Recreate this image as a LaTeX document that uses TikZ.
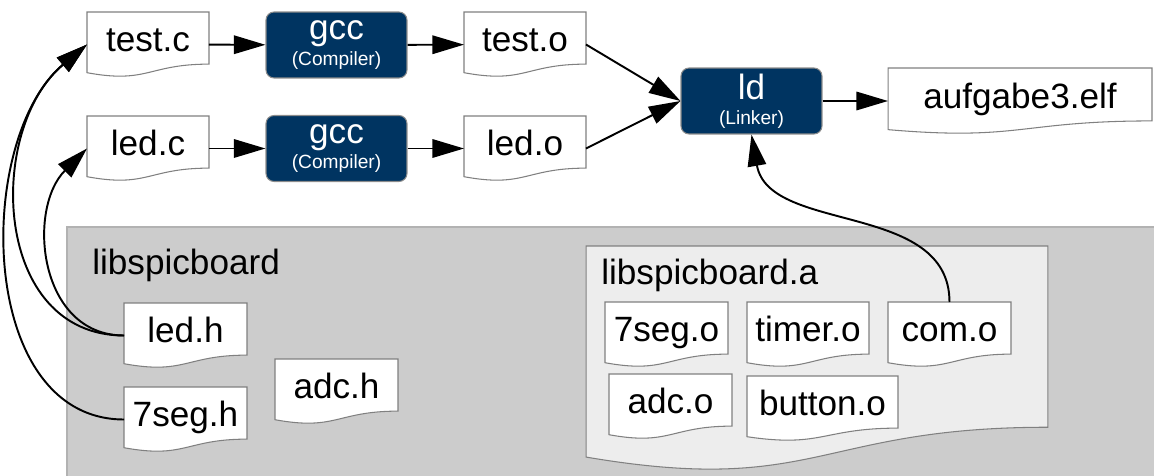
\documentclass[tikz,border=0pt]{standalone}
\usepackage{fontspec}
\setmainfont{Liberation Sans}
\usepackage{tikz}
\usetikzlibrary{calc,arrows.meta,backgrounds}

\definecolor{toolblue}{RGB}{0,52,97}
\newcommand{\bigfont}{\fontsize{20}{24}\selectfont}
\newcommand{\smallfont}{\fontsize{10.9}{13}\selectfont}

\tikzset{
    file/.style={minimum width=2.44cm, minimum height=1.3cm, inner sep=0pt, outer sep=0pt,
        text height=14pt, text depth=5.5pt, font=\bigfont},
    tool/.style={fill=toolblue, draw=black!45, line width=0.6pt, rounded corners=0.16cm,
        text=white, minimum width=2.82cm, minimum height=1.32cm, inner sep=0pt,
        align=center, font=\bigfont},
    page/.style={draw=black!50, line width=0.6pt},
    link/.style={-{Triangle[length=18pt,width=10.5pt]}, line width=1.1pt},
    title/.style={anchor=base west, inner sep=0pt, font=\bigfont},
}

% page with a wavy lower edge, drawn round a node
\newcommand{\docpage}[2][white]{%
    \path[page, fill=#1] let \p1=(#2.north west), \p2=(#2.south east) in
        (\p1) -- (\x2,\y1) -- (\x2,{\y1+0.802*(\y2-\y1)})
        .. controls ({(\x1+\x2)/2},{\y1+0.802*(\y2-\y1)}) and ({(\x1+\x2)/2},{\y1+1.1075*(\y2-\y1)})
        .. (\x1,{\y1+0.934*(\y2-\y1)}) -- cycle;}

\begin{document}
\begin{tikzpicture}[x=0.02cm, y=0.02cm]
        \useasboundingbox (0,0) rectangle (1154,-476);
        %
        \node[file] (testc) at (148,-44.5) {test.c};
        \node[file] (ledc)  at (148,-148.5) {led.c};
        \node[tool] (gcc1)  at (336.5,-45) {gcc\\[-9.5pt]\smallfont (Compiler)};
        \node[tool] (gcc2)  at (336.5,-148.5) {gcc\\[-9.5pt]\smallfont (Compiler)};
        \node[file] (testo) at (525,-44.5) {test.o};
        \node[file] (ledo)  at (525,-148.5) {led.o};
        \node[tool] (ld)    at (751.5,-101) {ld\\[-9.5pt]\smallfont (Linker)};
        \node[file, minimum width=5.28cm, minimum height=1.32cm] (elf) at (1020,-101) {aufgabe3.elf};
        %
        \node[title] (libname) at (92,-275) {libspicboard};
        \node[file, minimum width=2.46cm] (ledh) at (185.5,-335.5) {led.h};
        \node[file, minimum width=2.46cm] (segh) at (185.5,-419.5) {7seg.h};
        \node[file, minimum width=2.46cm] (adch) at (336.5,-391.5) {adc.h};
        %
        \node[file, minimum width=9.24cm, minimum height=4.52cm] (liba) at (817,-359) {};
        \node[title] (arname) at (601,-285) {libspicboard.a};
        \node[file, minimum width=2.46cm] (sego)    at (666.5,-334.5) {7seg.o};
        \node[file] (timero)  at (808,-334.5) {timer.o};
        \node[file, minimum width=2.46cm] (como)    at (949.5,-334.5) {com.o};
        \node[file, minimum width=2.46cm] (adco)    at (670.5,-406.5) {adc.o};
        \node[file, minimum width=3.02cm] (buttono) at (822.5,-408.5) {button.o};
        %
        \draw[link] (testc) -- (gcc1);
        \draw[link] (gcc1) -- (testo);
        \draw[link] (ledc) -- (gcc2);
        \draw[link] (gcc2) -- (ledo);
        \draw[link] (testo.east) -- (ld.west);
        \draw[link] (ledo.east) -- (ld.west);
        \draw[link] (ld) -- (elf);
        \draw[link] (como.north) to[out=90, in=-80] (ld.south);
        \draw[link] (ledh.west) to[out=180, in=-140, looseness=1.15] (testc.west);
        \draw[link] (segh.west) to[out=180, in=-140] (testc.west);
        \draw[link] (ledh.west) to[out=180, in=-135, looseness=1.15] (ledc.west);
        %
        \begin{scope}[on background layer]
            \fill[black!20] (67,-227) rectangle (1154,-476);
            \draw[black!30, line width=1pt] (67,-476) |- (1154,-227);
            \docpage[black!7]{liba}
            \foreach \f in {testc,ledc,testo,ledo,elf,ledh,segh,adch,sego,timero,como,adco,buttono}
                \docpage{\f};
        \end{scope}
\end{tikzpicture}
\end{document}
